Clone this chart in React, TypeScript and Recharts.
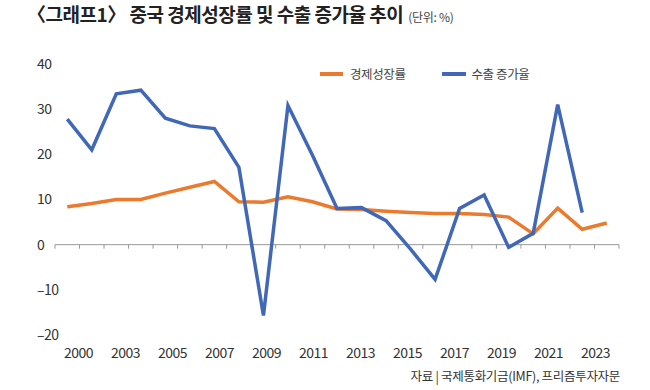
import { LineChart, Line, XAxis, YAxis, ReferenceLine, Legend } from 'recharts';

const years = [
  '2001', '2002', '2003', '2004', '2005', '2006', '2007', '2008', '2009', '2010', '2011', '2012',
  '2013', '2014', '2015', '2016', '2017', '2018', '2019', '2020', '2021', '2022', '2023',
];

// 경제성장률 (%)
const growth = [
  8.4, 9.1, 10.0, 10.0, 11.4, 12.7, 14.0, 9.5, 9.4, 10.6, 9.5, 7.9,
  7.8, 7.4, 7.1, 6.9, 6.9, 6.7, 6.1, 2.4, 8.1, 3.4, 4.8,
];

// 수출 증가율 (%) - 2023 없음
const exportsGrowth = [
  27.8, 21.0, 33.4, 34.2, 28.0, 26.3, 25.7, 17.1, -15.7, 30.8, 19.8, 8.0,
  8.2, 5.3, -1.0, -7.7, 8.0, 11.0, -0.6, 2.5, 31.0, 7.1,
];

const xLabels = ['2000', '2003', '2005', '2007', '2009', '2011', '2013', '2015', '2017', '2019', '2021', '2023'];
const yTicks = [-20, -10, 0, 10, 20, 30, 40];

const ORANGE = '#EB7A2D';
const BLUE = '#4068B6';
const FONT = '"Noto Sans CJK KR", "Noto Sans", sans-serif';

const rows = years.map((year, i) => ({
  idx: i,
  year,
  growth: growth[i],
  exports: exportsGrowth[i] ?? null,
}));

const n = years.length;
// the year labels sit in 12 equal bands across the axis
const band = n / xLabels.length;
const labelTicks = xLabels.map((_, k) => -0.5 + band * (k + 0.5));
const labelFor = (v: number) => xLabels[Math.round((v + 0.5) / band - 0.5)] ?? '';

const YTick = (props: any) => {
  const { x, y, payload } = props;
  const v = payload.value;
  const txt = v < 0 ? `–${Math.abs(v)}` : `${v}`;
  return (
    <text x={x - 10} y={y} dy="0.35em" textAnchor="start" fontSize={14} fill="#333" letterSpacing={-0.5} fontFamily={FONT}>
      {txt}
    </text>
  );
};

// zero line with small tick marks at every category boundary
const ZeroLine = (props: any) => {
  const { x1, x2, y1 } = props;
  const step = (x2 - x1) / n;
  return (
    <g>
      <line x1={x1} x2={x2} y1={y1} y2={y1} stroke="#999" strokeWidth={1} />
      {Array.from({ length: n + 1 }, (_, k) => (
        <line key={k} x1={x1 + step * k} x2={x1 + step * k} y1={y1} y2={y1 + 4} stroke="#999" strokeWidth={1} />
      ))}
    </g>
  );
};

const LegendBox = () => (
  <div style={{ display: 'flex', alignItems: 'center', fontFamily: FONT, fontSize: 12.5, color: '#444', letterSpacing: -0.4 }}>
    <span style={{ width: 23, height: 4, background: ORANGE, marginRight: 7 }} />
    <span style={{ marginRight: 36 }}>경제성장률</span>
    <span style={{ width: 24, height: 4, background: BLUE, marginRight: 6 }} />
    <span>수출 증가율</span>
  </div>
);

export default function App() {
  return (
    <div style={{ position: 'absolute', left: 0, top: 0, width: 650, height: 390, background: '#fff', fontFamily: FONT }}>
      <div style={{ position: 'absolute', left: 27, top: 0, whiteSpace: 'nowrap', color: '#222' }}>
        <span style={{ fontSize: 19, fontWeight: 700, letterSpacing: -0.5 }}>〈그래프1〉 중국 경제성장률 및 수출 증가율 추이</span>
        <span style={{ fontSize: 12, color: '#444', marginLeft: 5, letterSpacing: -0.3 }}>(단위: %)</span>
      </div>

      <LineChart width={650} height={390} data={rows} margin={{ top: 64, right: 31, bottom: 25, left: 8 }}>
        <XAxis
          type="number"
          dataKey="idx"
          domain={[-0.5, n - 0.5]}
          ticks={labelTicks}
          interval={0}
          tickFormatter={labelFor}
          axisLine={false}
          tickLine={false}
          tickMargin={7}
          height={30}
          tick={{ fontSize: 14, fill: '#333', fontFamily: FONT, letterSpacing: -0.5 }}
        />
        <YAxis
          domain={[-20, 40]}
          ticks={yTicks}
          axisLine={false}
          tickLine={false}
          width={47}
          tick={<YTick />}
        />
        <ReferenceLine y={0} shape={<ZeroLine />} />
        <Legend
          layout="vertical"
          align="center"
          verticalAlign="middle"
          wrapperStyle={{ left: 320, top: 64, width: 240 }}
          content={<LegendBox />}
        />
        <Line dataKey="growth" name="경제성장률" stroke={ORANGE} strokeWidth={3.5} dot={false} isAnimationActive={false} />
        <Line dataKey="exports" name="수출 증가율" stroke={BLUE} strokeWidth={3.5} dot={false} isAnimationActive={false} />
      </LineChart>

      <div style={{ position: 'absolute', right: 30, top: 366, fontSize: 12.5, color: '#333', letterSpacing: -0.3 }}>
        자료 | 국제통화기금(IMF), 프리즘투자자문
      </div>
    </div>
  );
}
